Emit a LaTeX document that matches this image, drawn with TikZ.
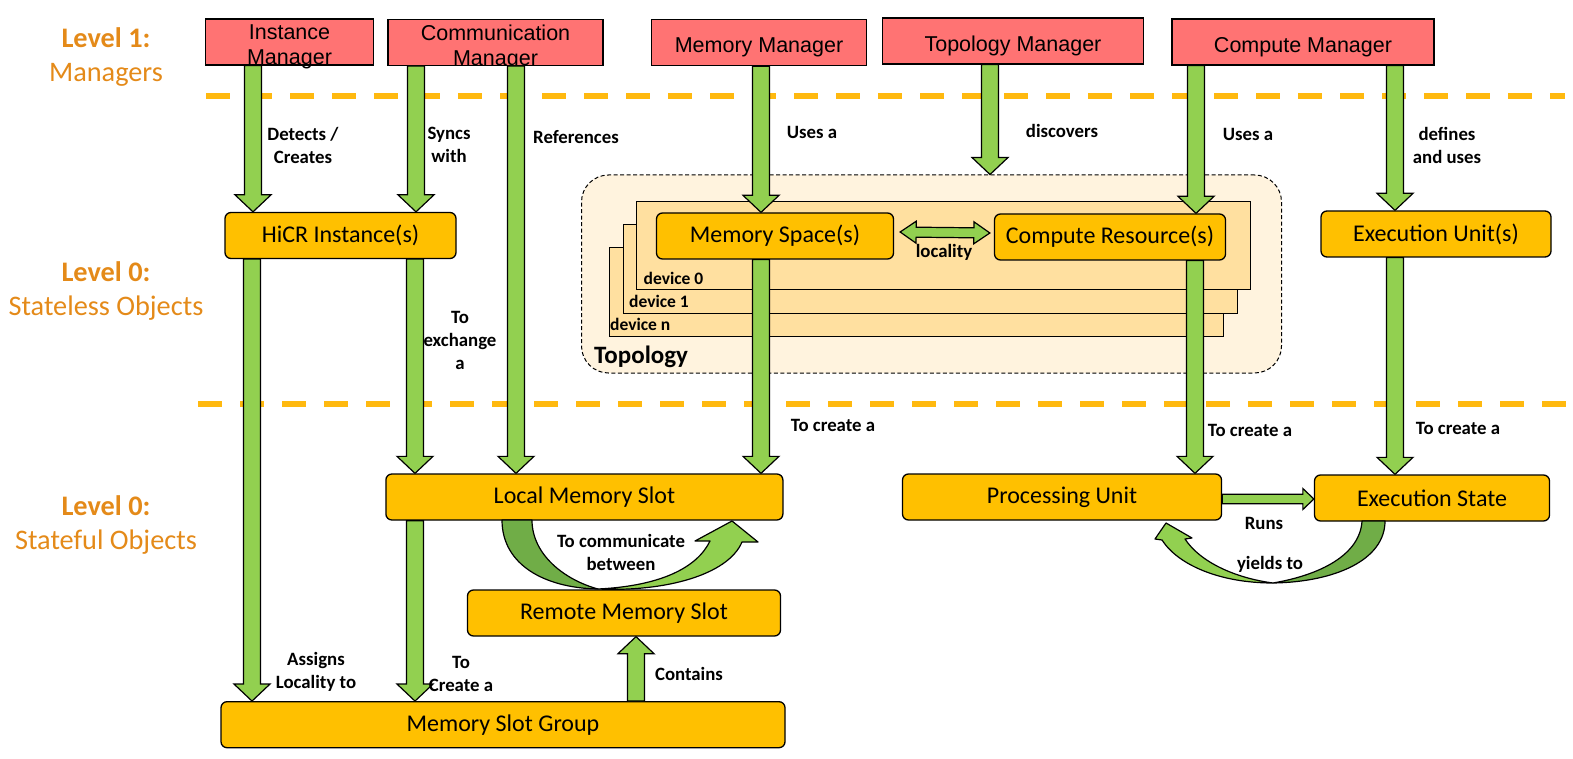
\documentclass[tikz,border=0pt]{standalone}
\usepackage{fontspec}
\setmainfont{Carlito}
\newfontfamily\mgrfont{Liberation Sans}
\usepackage{tikz}
\usetikzlibrary{calc}
\usetikzlibrary{positioning}

\definecolor{mgrred}{RGB}{255,115,115}
\definecolor{objgold}{RGB}{255,192,0}
\definecolor{arrgreen}{RGB}{146,208,80}
\definecolor{arrdark}{RGB}{112,173,71}
\definecolor{lvlorange}{RGB}{228,138,25}
\definecolor{sepyellow}{RGB}{255,185,15}
\definecolor{topofill}{RGB}{255,243,222}
\definecolor{devfill}{RGB}{255,224,160}

\tikzset{
  mgr/.style={draw, line width=1.3pt, fill=mgrred, inner sep=0pt, minimum height=46pt, align=center, font=\mgrfont\fontsize{21.5}{25}\selectfont},
  obj/.style={draw, line width=1.3pt, fill=objgold, rounded corners=6pt, inner sep=0pt, minimum height=46pt, font=\fontsize{24}{28}\selectfont},
  lbl/.style={font=\bfseries\fontsize{18.8}{23}\selectfont, align=center, inner sep=0pt},
  lvl/.style={text=lvlorange, font=\fontsize{28.3}{34}\selectfont, align=center, inner sep=0pt},
  lvlsep/.style={sepyellow, line width=5.5pt, dash pattern=on 24pt off 18pt},
  dev/.style={draw, line width=1pt, fill=devfill, inner sep=0pt, minimum width=614pt, minimum height=88pt},
  devlbl/.style={font=\bfseries\fontsize{17.5}{20}\selectfont, anchor=west, inner sep=0pt},
  blockarrow/.style={draw, line width=1.2pt, fill=arrgreen, line join=miter},
  curvearrow/.style={draw, line width=1.2pt, line join=round},
}

% shaft half width, head half width, head length
\def\aw{8.5}
\def\ahw{18}
\def\ahl{17}

\newcommand{\barrow}[2]{%
  \coordinate (ah) at ($#2!\ahl pt!#1$);
  \draw[blockarrow] ($#1!\aw pt!90:#2$) -- ($(ah)!\aw pt!90:#2$) -- ($(ah)!\ahw pt!90:#2$) -- #2
     -- ($(ah)!\ahw pt!-90:#2$) -- ($(ah)!\aw pt!-90:#2$) -- ($#1!\aw pt!-90:#2$) -- cycle;
}

\newcommand{\dbarrow}[2]{%
  \coordinate (ha) at ($#1!\ahl pt!#2$);
  \coordinate (hb) at ($#2!\ahl pt!#1$);
  \draw[blockarrow] #1 -- ($(ha)!\ahw pt!90:#2$) -- ($(ha)!\aw pt!90:#2$) -- ($(hb)!\aw pt!-90:#1$)
     -- ($(hb)!\ahw pt!-90:#1$) -- #2 -- ($(hb)!\ahw pt!90:#1$) -- ($(hb)!\aw pt!90:#1$)
     -- ($(ha)!\aw pt!-90:#2$) -- ($(ha)!\ahw pt!-90:#2$) -- cycle;
}

\begin{document}
\begin{tikzpicture}[x=1pt, y=-1pt]

  \useasboundingbox (0,0) rectangle (1573,759);

  %level separators
  \draw[lvlsep] (206,96) -- (1565,96);
  \draw[lvlsep] (198,404) -- (1568,404);

  %levels
  \node[lvl] (lvla) at (106,57) {\textbf{Level 1:}\\Managers};
  \node[lvl] (lvlb) at (106,290.5) {\textbf{Level 0:}\\Stateless Objects};
  \node[lvl] (lvlc) at (106,525) {\textbf{Level 0:}\\Stateful Objects};

  %topology
  \node[draw, line width=1pt, dash pattern=on 4pt off 2.5pt, fill=topofill, rounded corners=27pt,
        minimum width=700pt, minimum height=198pt, inner sep=0pt] (topo) at (931.5,274) {};
  \foreach \name/\x/\y in {devn/916.5/292, dev1/930.5/269, dev0/943/245.5}{
     \node[dev] (\name) at (\x,\y) {};
  }
  \node[devlbl] (lbl0) at (643.5,278) {device 0};
  \node[devlbl] (lbl1) at (629,301) {device 1};
  \node[devlbl] (lbln) at (610,324) {device n};
  \node[anchor=west, inner sep=0pt, font=\bfseries\fontsize{25}{30}\selectfont] (topolbl) at (594,357) {Topology};

  %managers
  \foreach \name/\x/\y/\w/\th/\td/\txt in {im/289.5/42/168/45.5/0/{Instance\\Manager}, cm/495.5/42.3/215/45.5/0/{Communication\\Manager},
        mm/759/42.7/215/25/4.5/{Memory Manager}, tm/1013/41/261/25/4.5/{Topology Manager}, cpm/1303/42/262/25/4.5/{Compute Manager}}{
     \node[mgr, minimum width=\w pt, text height=\th pt, text depth=\td pt] (\name) at (\x,\y) {\txt};
  }

  %objects
  \foreach \name/\x/\y/\w/\txt in {hicr/340.5/235.5/231/{HiCR Instance(s)}, ms/775/236/237/{Memory Space(s)},
        cr/1110/237/231/{Compute Resource(s)}, eu/1436/234/230/{Execution Unit(s)},
        lms/584.4/497/397/{Local Memory Slot}, rms/624/613/313/{Remote Memory Slot},
        msg/503/724.7/564/{Memory Slot Group}, pu/1062/497/319/{Processing Unit}, es/1432/498/235/{Execution State}}{
     \node[obj, minimum width=\w pt] (\name) at (\x,\y) {\txt};
  }

  %straight arrows
  \foreach \a/\b/\x in {im/hicr/253, cm/hicr/416, cm/lms/516, mm/ms/761, tm/topo/990, cpm/cr/1196, cpm/eu/1395,
        hicr/msg/252, hicr/lms/415, ms/lms/761, cr/pu/1195, eu/es/1395, lms/msg/415}{
     \barrow{(\a.south -| \x,0)}{(\b.north -| \x,0)}
  }
  \barrow{(msg.north -| 636,0)}{(rms.south -| 636,0)}

  {\def\aw{4.8}\def\ahw{10.5}\def\ahl{11}
   \barrow{(pu.east |- 0,499)}{(es.west |- 0,499)}}
  {\def\aw{5}\def\ahw{11}\def\ahl{16}
   \dbarrow{($(ms.east)+(6,-4)$)}{($(cr.west)+(-4,-4)$)}}

  %curved arrows
  \draw[curvearrow, fill=arrdark] (502,520) .. controls (502,565) and (545,588) .. (598,589)
        .. controls (565,580) and (532,555) .. (532,520) -- cycle;
  \draw[curvearrow, fill=arrgreen] (598,589) .. controls (665,592) and (728,575) .. (742,542) -- (758,542) -- (732,521)
        -- (695,541) -- (710,541) .. controls (697,568) and (660,586) .. (598,589) -- cycle;

  \draw[curvearrow, fill=arrdark] (1385,521) .. controls (1385,560) and (1335,582) .. (1273,583)
        .. controls (1320,575) and (1360,555) .. (1362,521) -- cycle;
  \draw[curvearrow, fill=arrgreen] (1273,583) .. controls (1220,583) and (1178,565) .. (1162,540) -- (1155,539)
        -- (1166,523) -- (1192,538) -- (1185,539) .. controls (1200,562) and (1235,578) .. (1273,583) -- cycle;

  %labels
  \node[lbl] (detect) at (303,145.5) {Detects /\\Creates};
  \foreach \name/\x/\y/\txt in {sync/449/145/{Syncs\\with}, refs/576/137/{References}, usesa/812/132/{Uses a},
        disc/1062/131/{discovers}, usesb/1248/134/{Uses a}, defs/1447/145.5/{defines\\and uses},
        loc/944/252/{locality}, exch/460/340/{To\\exchange\\a}, mkslot/833/425/{To create a},
        mkpu/1250/430/{To create a}, mkes/1458/428/{To create a}, runs/1264/523/{Runs},
        yld/1270/564/{yields to}, comm/621/552.5/{To communicate\\between}, cont/689/674/{Contains},
        asg/316/672/{Assigns\\Locality to}, mkgrp/461/674/{To\\Create a}}{
     \node[lbl] (\name) at (\x,\y) {\txt};
  }

\end{tikzpicture}
\end{document}
